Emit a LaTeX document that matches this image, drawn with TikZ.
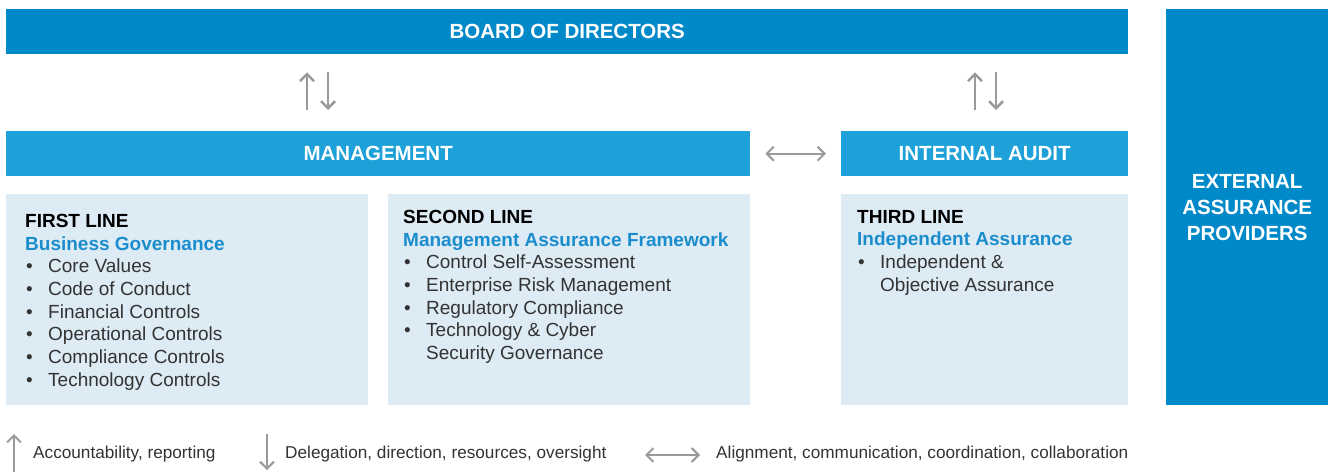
\documentclass[tikz,border=0pt]{standalone}
\usepackage{fontspec}
\setmainfont{Liberation Sans}
\usetikzlibrary{arrows.meta,positioning}
\definecolor{darkblue}{HTML}{0089C9}
\definecolor{midblue}{HTML}{1DA1D8}
\definecolor{paleblue}{HTML}{DDEBF5}
\definecolor{titleblue}{HTML}{1B8DCC}
\definecolor{txtgray}{HTML}{333333}
\definecolor{arrgray}{HTML}{9A9A9A}
\newcommand\bul{\makebox[23pt][l]{\hspace{1pt}\textbullet}}

\begin{document}
\begin{tikzpicture}[x=1pt,y=-1pt,
    bar/.style={anchor=north west,inner sep=0,text=white,align=center,font=\fontsize{20.5}{26}\selectfont\bfseries},
    linebox/.style={anchor=north west,inner sep=0,fill=paleblue,minimum height=211pt},
    linetext/.style={anchor=north west,inner sep=0,align=left,text=txtgray,font=\fontsize{19}{22.7}\selectfont},
    arr/.style={draw=arrgray,line width=2.5pt,-{Straight Barb[length=7pt,width=14pt]}},
    legend/.style={anchor=west,inner sep=0,text=txtgray,font=\fontsize{17.2}{19}\selectfont}]
    \useasboundingbox (0,0) rectangle (1329,471);

    \node[bar,fill=darkblue,minimum width=1122pt,minimum height=45pt] (board) at (6,9) {BOARD OF DIRECTORS};
    \node[bar,fill=midblue,minimum width=744pt,minimum height=45pt] (mgmt) at (6,131) {MANAGEMENT};
    \node[bar,fill=midblue,minimum width=287pt,minimum height=45pt] (audit) at (841,131) {INTERNAL AUDIT};
    \node[bar,fill=darkblue,minimum width=162pt,minimum height=396pt] (ext) at (1166,9) {EXTERNAL\\ASSURANCE\\PROVIDERS};

    \node[linebox,minimum width=362pt] (first) at (6,194) {};
    \node[linebox,minimum width=362pt] (second) at (388,194) {};
    \node[linebox,minimum width=287pt] (third) at (841,194) {};

    \node[linetext] (firsttxt) at ([xshift=19pt,yshift=-20pt]first.north west)
        {\textcolor{black}{\bfseries FIRST LINE}\\\textcolor{titleblue}{\bfseries Business Governance}\\
         \bul Core Values\\\bul Code of Conduct\\\bul Financial Controls\\
         \bul Operational Controls\\\bul Compliance Controls\\\bul Technology Controls};
    \node[linetext] (secondtxt) at ([xshift=15pt,yshift=-16pt]second.north west)
        {\textcolor{black}{\bfseries SECOND LINE}\\\textcolor{titleblue}{\bfseries Management Assurance Framework}\\
         \bul Control Self-Assessment\\\bul Enterprise Risk Management\\\bul Regulatory Compliance\\
         \bul Technology \& Cyber\\\hspace*{23pt}Security Governance};
    \node[linetext] (thirdtxt) at ([xshift=16pt,yshift=-16pt]third.north west)
        {\textcolor{black}{\bfseries THIRD LINE}\\\textcolor{titleblue}{\bfseries Independent Assurance}\\
         \bul Independent \&\\\hspace*{23pt}Objective Assurance};

    \coordinate (u1) at (307,0);
    \coordinate (d1) at (328,0);
    \coordinate (u2) at (975,0);
    \coordinate (d2) at (996,0);
    \draw[arr,shorten <=21pt,shorten >=18pt] (mgmt.north -| u1) -- (board.south -| u1);
    \draw[arr,shorten <=18pt,shorten >=21pt] (board.south -| d1) -- (mgmt.north -| d1);
    \draw[arr,shorten <=21pt,shorten >=18pt] (audit.north -| u2) -- (board.south -| u2);
    \draw[arr,shorten <=18pt,shorten >=21pt] (board.south -| d2) -- (audit.north -| d2);
    \draw[arr,line width=2pt,{Straight Barb[length=7pt,width=14pt]}-{Straight Barb[length=7pt,width=14pt]},
        shorten <=15pt,shorten >=15pt] (mgmt.east) -- (audit.west);

    \node[legend] (acc) at (33,454) {Accountability, reporting};
    \node[legend] (dlg) at (285,454) {Delegation, direction, resources, oversight};
    \node[legend] (aln) at (716,454) {Alignment, communication, coordination, collaboration};
    \draw[arr,line width=2pt] ([xshift=-19pt,yshift=-18pt]acc.west) -- ([xshift=-19pt,yshift=20pt]acc.west);
    \draw[arr,line width=2pt] ([xshift=-18pt,yshift=20pt]dlg.west) -- ([xshift=-18pt,yshift=-16pt]dlg.west);
    \draw[arr,line width=2pt,{Straight Barb[length=7pt,width=14pt]}-{Straight Barb[length=7pt,width=14pt]}]
        ([xshift=-71pt,yshift=-1pt]aln.west) -- ([xshift=-16pt,yshift=-1pt]aln.west);
\end{tikzpicture}
\end{document}
